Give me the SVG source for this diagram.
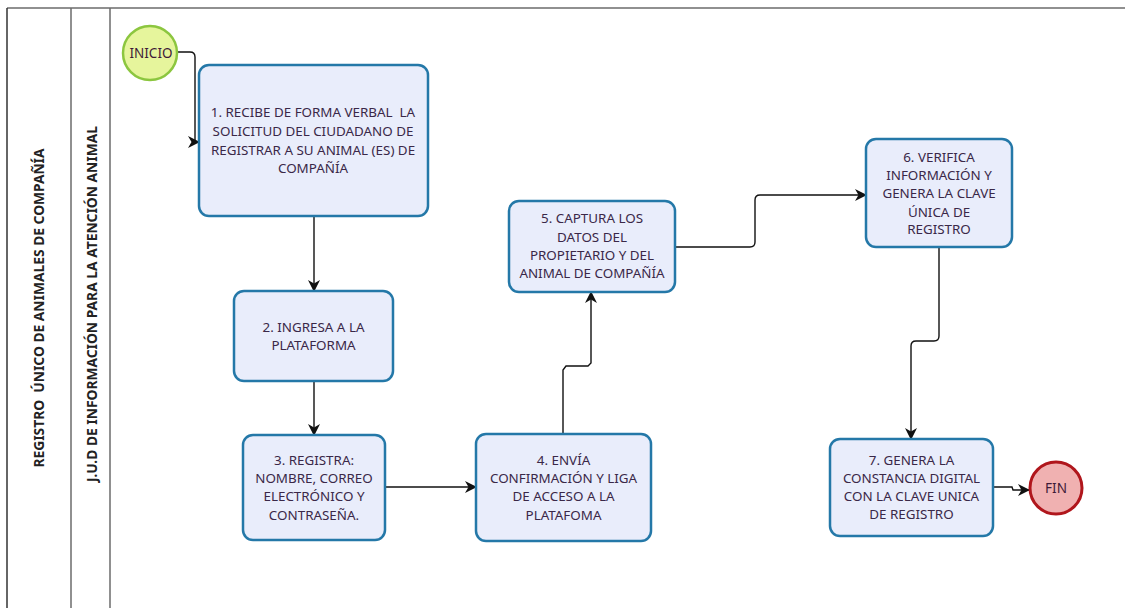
<svg xmlns="http://www.w3.org/2000/svg" width="1125" height="608" viewBox="0 0 1125 608">
<defs>
<style>
.lane{stroke:#6b6b6b;stroke-width:1.5;fill:none}
.lbl{font-family:"Noto Sans","Liberation Sans",sans-serif;font-weight:bold;font-size:13.8px;fill:#222;text-anchor:middle;white-space:pre}
.task{fill:#e9edfb;stroke:#2478a8;stroke-width:2.5}
.t{font-family:"Noto Sans","Liberation Sans",sans-serif;font-size:13.4px;fill:#3a2848;text-anchor:middle;white-space:pre}
.c{stroke:#111;stroke-width:1.4;fill:none;marker-end:url(#arr)}
</style>
<marker id="arr" viewBox="0 0 12 12" refX="11" refY="6" markerWidth="12" markerHeight="12" markerUnits="userSpaceOnUse" orient="auto">
<path d="M0,0 L12,6 L0,12 L3.5,6 z" fill="#111"/>
</marker>
</defs>
<rect width="1125" height="608" fill="#fff"/>
<g id="pool">
<line class="lane" x1="7" y1="8" x2="1125" y2="8"/>
<line class="lane" x1="7" y1="8" x2="7" y2="608" style="stroke:#333"/>
<line class="lane" x1="71" y1="8" x2="71" y2="608"/>
<line class="lane" x1="110" y1="8" x2="110" y2="608"/>
<text class="lbl" xml:space="preserve" transform="translate(44,308) rotate(-90)">REGISTRO  ÚNICO DE ANIMALES DE COMPAÑÍA</text>
<text class="lbl" transform="translate(97,304) rotate(-90)">J.U.D DE INFORMACIÓN PARA LA ATENCIÓN ANIMAL</text>
</g>
<g id="connectors">
<path class="c" d="M178,52 H190 Q195,52 195,57 V142 H199"/>
<path class="c" d="M314,216 V291"/>
<path class="c" d="M314,381 V435"/>
<path class="c" d="M385,487 H476"/>
<path class="c" d="M563,434 V370 L566,366 H588 L591,363 V292"/>
<path class="c" d="M675,247 H750 Q755,247 755,242 V200 Q755,195 760,195 H866"/>
<path class="c" d="M939,247 V336 Q939,341 934,341 H916 Q911,341 911,346 V439"/>
<path class="c" d="M993,487 H1012 L1013,490 H1029"/>
</g>
<g id="inicio">
<circle cx="150" cy="53" r="27" fill="#e6f59c" stroke="#8cc63f" stroke-width="2.5"/>
<text class="t" x="151" y="57.5" style="font-size:13.5px;fill:#3e1a38">INICIO</text>
</g>
<g id="n1">
<rect class="task" x="199" y="65" width="229" height="151" rx="10"/>
<text class="t" xml:space="preserve"><tspan x="313" y="117">1. RECIBE DE FORMA VERBAL  LA</tspan><tspan x="313" y="136">SOLICITUD DEL CIUDADANO DE</tspan><tspan x="313" y="154.5">REGISTRAR A SU ANIMAL (ES) DE</tspan><tspan x="313" y="172.5">COMPAÑÍA</tspan></text>
</g>
<g id="n2">
<rect class="task" x="234" y="291" width="159" height="90" rx="10"/>
<text class="t"><tspan x="313.5" y="331.5">2. INGRESA A LA</tspan><tspan x="313.5" y="350">PLATAFORMA</tspan></text>
</g>
<g id="n3">
<rect class="task" x="243" y="435" width="142" height="105" rx="10"/>
<text class="t"><tspan x="314" y="464.5">3. REGISTRA:</tspan><tspan x="314" y="483">NOMBRE, CORREO</tspan><tspan x="314" y="500.5">ELECTRÓNICO Y</tspan><tspan x="314" y="519.5">CONTRASEÑA.</tspan></text>
</g>
<g id="n4">
<rect class="task" x="476" y="434" width="175" height="107" rx="10"/>
<text class="t"><tspan x="563.5" y="464.5">4. ENVÍA</tspan><tspan x="563.5" y="483">CONFIRMACIÓN Y LIGA</tspan><tspan x="563.5" y="500.5">DE ACCESO A LA</tspan><tspan x="563.5" y="519.5">PLATAFOMA</tspan></text>
</g>
<g id="n5">
<rect class="task" x="509" y="201" width="166" height="91" rx="10"/>
<text class="t"><tspan x="592" y="222.5">5. CAPTURA LOS</tspan><tspan x="592" y="241.5">DATOS DEL</tspan><tspan x="592" y="259.5">PROPIETARIO Y DEL</tspan><tspan x="592" y="277.5">ANIMAL DE COMPAÑÍA</tspan></text>
</g>
<g id="n6">
<rect class="task" x="866" y="139" width="146" height="108" rx="10"/>
<text class="t"><tspan x="939" y="161.5">6. VERIFICA</tspan><tspan x="939" y="179.5">INFORMACIÓN Y</tspan><tspan x="939" y="197.5">GENERA LA CLAVE</tspan><tspan x="939" y="216.5">ÚNICA DE</tspan><tspan x="939" y="234">REGISTRO</tspan></text>
</g>
<g id="n7">
<rect class="task" x="830" y="439" width="163" height="97" rx="10"/>
<text class="t"><tspan x="911.5" y="464.5">7. GENERA LA</tspan><tspan x="911.5" y="482.5">CONSTANCIA DIGITAL</tspan><tspan x="911.5" y="500.5">CON LA CLAVE UNICA</tspan><tspan x="911.5" y="518.5">DE REGISTRO</tspan></text>
</g>
<g id="fin">
<circle cx="1056" cy="488" r="26" fill="#f0b1b1" stroke="#b0161c" stroke-width="3"/>
<text class="t" x="1056" y="493" style="font-size:13.5px;fill:#3e1a38">FIN</text>
</g>
</svg>
